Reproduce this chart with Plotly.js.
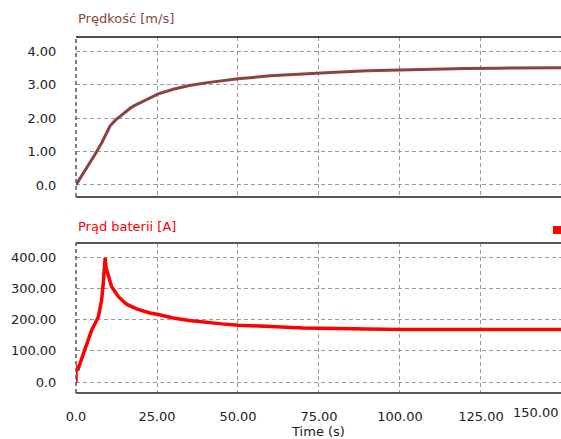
<!DOCTYPE html>
<html>
<head>
<meta charset="utf-8">
<script src="https://cdn.plot.ly/plotly-3.0.1.min.js"></script>
<style>html,body{margin:0;padding:0;background:#fff;}#chart{width:561px;height:439px;}</style>
</head>
<body>
<div id="chart"></div>
<script>
// Speed series (top panel)
const speedTitle = "Prędkość [m/s]";
const speedT = [0, 2, 4, 6, 8, 10.5, 12, 13.1, 15, 16.7, 18, 20.8, 25.4, 30, 35, 40, 45, 50, 60, 70, 80, 90, 100, 110, 120, 130, 140, 150];
const speedV = [0, 0.30, 0.61, 0.93, 1.27, 1.76, 1.92, 2.01, 2.16, 2.29, 2.37, 2.51, 2.72, 2.86, 2.97, 3.05, 3.12, 3.17, 3.26, 3.32, 3.37, 3.41, 3.44, 3.46, 3.48, 3.49, 3.5, 3.5];
const speedTickVals = [0, 1, 2, 3, 4];
const speedTickText = ["0.0", "1.00", "2.00", "3.00", "4.00"];

// Battery current series (bottom panel)
const currentTitle = "Prąd baterii [A]";
const curT = [0, 0.05, 0.5, 2.3, 4.8, 6.9, 7.9, 8.4, 9.0, 9.3, 10.0, 11.0, 13.1, 15.6, 18.7, 22.8, 25.4, 30, 35, 40, 45, 50, 60, 70, 80, 92, 100, 125, 150];
const curI = [0, 53, 37, 91, 165, 208, 261, 314, 397, 365, 337, 305, 273, 249, 234, 221, 216, 205, 197, 191, 186, 182, 177, 173, 171, 168, 168, 168, 168];
const curTickVals = [0, 100, 200, 300, 400];
const curTickText = ["0.0", "100.00", "200.00", "300.00", "400.00"];

// Time axis
const timeTitle = "Time (s)";
const timeTickVals = [0, 25, 50, 75, 100, 125, 150];
const timeTickText = ["0.0", "25.00", "50.00", "75.00", "100.00", "125.00", "150.00"];

const font = {family: "DejaVu Sans, Verdana, sans-serif", size: 13, color: "#222"};
const gridStyle = {showgrid: true, gridcolor: "#999", gridwidth: 1, griddash: "4px,3px", zeroline: false};

const traces = [
  {x: speedT, y: speedV, xaxis: "x2", yaxis: "y2", mode: "lines", line: {color: "#8a4444", width: 3}, hoverinfo: "skip"},
  {x: curT, y: curI, xaxis: "x", yaxis: "y", mode: "lines", line: {color: "#ff0000", width: 3.5}, hoverinfo: "skip"}
];

const H = 356; // plot height in px
const py = v => (393 - v) / H; // convert pixel y to paper y

const layout = {
  width: 561, height: 439,
  margin: {l: 76, r: 0, t: 37, b: 46},
  paper_bgcolor: "#fff", plot_bgcolor: "#fff",
  showlegend: false,
  font: font,
  xaxis: Object.assign({
    domain: [0, 1], anchor: "y", range: [0, 149.7],
    tickvals: timeTickVals.slice(0, 6), ticktext: timeTickText.slice(0, 6),
    ticks: "outside", ticklen: 11, tickcolor: "rgba(0,0,0,0)",
    showline: false,
    title: {text: timeTitle, font: font, standoff: 4}
  }, gridStyle),
  xaxis2: Object.assign({
    domain: [0, 1], anchor: "y2", matches: "x", range: [0, 149.7],
    tickvals: timeTickVals, showticklabels: false, ticks: "", showline: false
  }, gridStyle),
  yaxis: Object.assign({
    domain: [0, 150 / H], anchor: "x", range: [-35.2, 444.8],
    tickvals: curTickVals, ticktext: curTickText,
    ticks: "outside", ticklen: 16, tickcolor: "rgba(0,0,0,0)", showline: false
  }, gridStyle),
  yaxis2: Object.assign({
    domain: [(393 - 197) / H, 1], anchor: "x2", range: [-0.36, 4.42],
    tickvals: speedTickVals, ticktext: speedTickText,
    ticks: "outside", ticklen: 16, tickcolor: "rgba(0,0,0,0)", showline: false
  }, gridStyle),
  annotations: [
    {text: speedTitle, xref: "paper", yref: "paper", x: 0, y: py(19), xanchor: "left", yanchor: "middle", showarrow: false, font: {family: font.family, size: 13, color: "#8a4444"}},
    {text: currentTitle, xref: "paper", yref: "paper", x: 0, y: py(226), xanchor: "left", yanchor: "middle", showarrow: false, font: {family: font.family, size: 13, color: "#ff0000"}},
    {text: timeTickText[6], xref: "paper", yref: "paper", x: 1, y: py(412), xanchor: "right", yanchor: "middle", showarrow: false, font: font}
  ],
  shapes: [
    {type: "line", xref: "paper", yref: "paper", x0: 0, x1: 0, y0: py(197), y1: 1, line: {color: "#555", width: 1.5, dash: "4px,3px"}},
    {type: "line", xref: "paper", yref: "paper", x0: 0, x1: 0, y0: 0, y1: py(243), line: {color: "#555", width: 1.5, dash: "4px,3px"}},
    {type: "line", xref: "paper", yref: "paper", x0: 0, x1: 1, y0: 1, y1: 1, line: {color: "#111", width: 1.5}},
    {type: "line", xref: "paper", yref: "paper", x0: 0, x1: 1, y0: py(197), y1: py(197), line: {color: "#555", width: 2}},
    {type: "line", xref: "paper", yref: "paper", x0: 0, x1: 1, y0: py(243), y1: py(243), line: {color: "#555", width: 2}},
    {type: "line", xref: "paper", yref: "paper", x0: 0, x1: 1, y0: 0, y1: 0, line: {color: "#222", width: 1.5}},
    {type: "rect", xref: "paper", yref: "paper", x0: (553 - 76) / 485, x1: 1.0, y0: py(234), y1: py(226), line: {width: 0}, fillcolor: "#ff0000"}
  ]
};

Plotly.newPlot("chart", traces, layout, {displayModeBar: false, staticPlot: true});
</script>
</body>
</html>
